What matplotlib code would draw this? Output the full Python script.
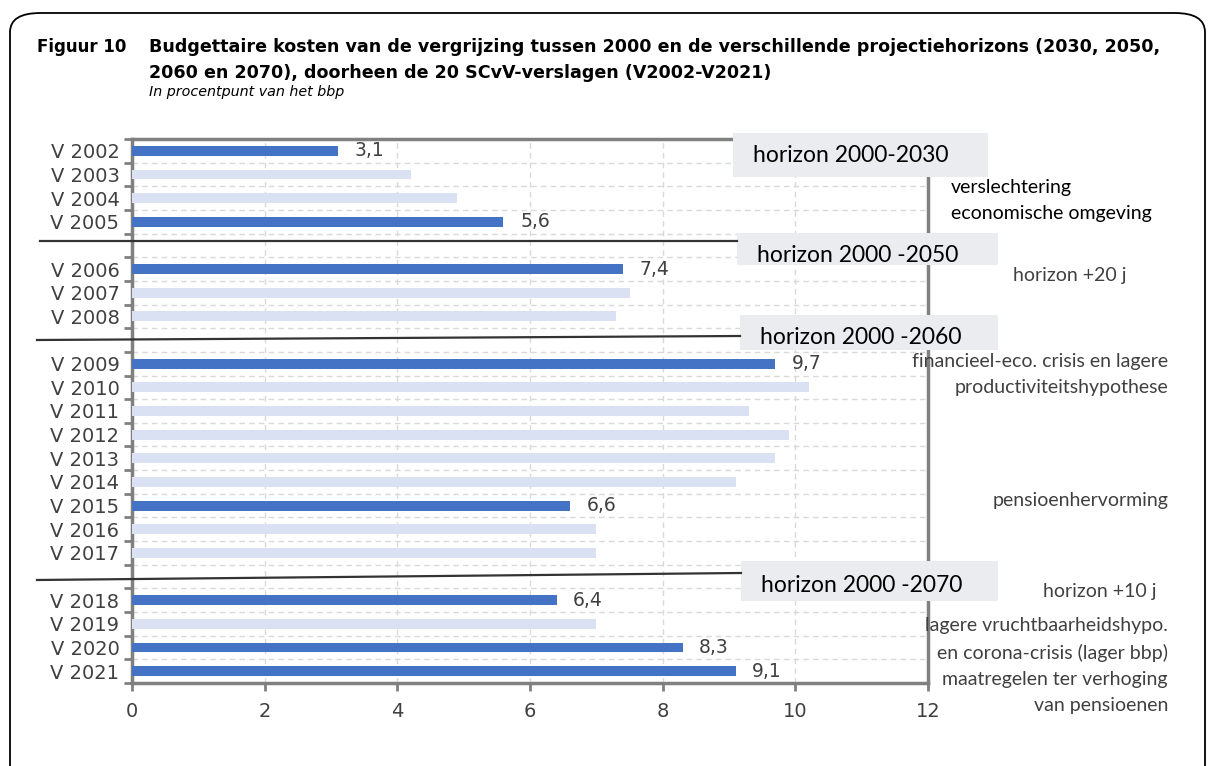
import matplotlib.pyplot as plt
import matplotlib.patches as patches
from matplotlib.lines import Line2D
import numpy as np

# data
reports = ['V 2002', 'V 2003', 'V 2004', 'V 2005',
           'V 2006', 'V 2007', 'V 2008',
           'V 2009', 'V 2010', 'V 2011', 'V 2012', 'V 2013', 'V 2014', 'V 2015', 'V 2016', 'V 2017',
           'V 2018', 'V 2019', 'V 2020', 'V 2021']
costs = [3.1, 4.2, 4.9, 5.6,
         7.4, 7.5, 7.3,
         9.7, 10.2, 9.3, 9.9, 9.7, 9.1, 6.6, 7.0, 7.0,
         6.4, 7.0, 8.3, 9.1]
highlight = ['V 2002', 'V 2005', 'V 2006', 'V 2009', 'V 2015', 'V 2018', 'V 2020', 'V 2021']
group_sizes = [4, 3, 9, 4]
horizons = ['horizon 2000-2030', 'horizon 2000 -2050', 'horizon 2000 -2060', 'horizon 2000 -2070']
xticks = [0, 2, 4, 6, 8, 10, 12]

DARK = '#4472C4'
LIGHT = '#D9E1F2'
GREY = '#404040'

W, H = 1215, 766
fig = plt.figure(figsize=(W / 100, H / 100), dpi=100)

def fx(px):
    return px / W

def fy(py):
    return 1 - py / H

# one empty slot between the horizon groups
pos = []
slot = 0
for n in group_sizes:
    for i in range(n):
        pos.append(slot)
        slot += 1
    slot += 1
nslots = slot - 1

ax = fig.add_axes([fx(132), fy(683), fx(928) - fx(132), fy(139) - fy(683)])
colors = [DARK if r in highlight else LIGHT for r in reports]
ax.barh(pos, costs, height=0.42, color=colors, zorder=3)

for p, v, r in zip(pos, costs, reports):
    if r in highlight:
        ax.annotate(f'{v:.1f}'.replace('.', ','), (v, p), xytext=(12, 0), textcoords='offset points',
                    ha='left', va='center', fontsize=13.5, color=GREY, zorder=4)

ax.set_xlim(0, 12)
ax.set_ylim(nslots - 0.5, -0.5)
ax.set_xticks(xticks)
ax.set_xticklabels([str(t) for t in xticks])
ax.set_yticks(pos)
ax.set_yticklabels(reports)
ax.set_yticks(np.arange(-0.5, nslots, 1), minor=True)
ax.tick_params(axis='y', which='major', length=0, pad=9, labelsize=14, labelcolor=GREY)
ax.tick_params(axis='y', which='minor', length=6, width=2, color='#808080')
ax.tick_params(axis='x', length=6, width=2, color='#808080', labelsize=14, labelcolor=GREY, pad=8)
ax.grid(axis='y', which='minor', color='#d9d9d9', linestyle=(0, (4, 3)), linewidth=1, zorder=0)
ax.grid(axis='x', which='major', color='#d9d9d9', linestyle=(0, (4, 3)), linewidth=1, zorder=0)
for s in ax.spines.values():
    s.set_color('#808080')
    s.set_linewidth(2.5)

# group separators
seps = [((40, 241), (737, 241)), ((37, 340), (740, 336)), ((37, 580), (741, 573))]
for (x0, y0), (x1, y1) in seps:
    fig.add_artist(Line2D([fx(x0), fx(x1)], [fy(y0), fy(y1)], color='#333333', linewidth=1.6))

# horizon boxes
boxes = [(733, 133, 988, 177, 155), (737, 233, 998, 265, 256),
         (740, 315, 998, 350, 338), (741, 561, 998, 601, 586)]
for (x0, y0, x1, y1, ty), lab in zip(boxes, horizons):
    fig.add_artist(patches.Rectangle((fx(x0), fy(y1)), fx(x1) - fx(x0), fy(y0) - fy(y1),
                                     transform=fig.transFigure, facecolor='#ebecf0', edgecolor='none'))
    fig.text(fx(x0 + 20), fy(ty), lab, fontsize=16.5, family='Lato', va='center', ha='left', color='black')

# annotations on the right
NOTE = 14
fig.text(fx(951), fy(187), 'verslechtering', fontsize=NOTE, family='Lato', va='center', ha='left')
fig.text(fx(951), fy(214), 'economische omgeving', fontsize=NOTE, family='Lato', va='center', ha='left')
fig.text(fx(1013), fy(276), 'horizon +20 j', fontsize=NOTE, family='Lato', va='center', ha='left', color=GREY)
right_notes = [('financieel-eco. crisis en lagere', 362), ('productiviteitshypothese', 388),
               ('pensioenhervorming', 500), ('lagere vruchtbaarheidshypo.', 625),
               ('en corona-crisis (lager bbp)', 653), ('maatregelen ter verhoging', 680),
               ('van pensioenen', 705)]
for txt, y in right_notes:
    fig.text(fx(1168), fy(y), txt, fontsize=NOTE, family='Lato', va='center', ha='right', color=GREY)
fig.text(fx(1043), fy(592), 'horizon +10 j', fontsize=NOTE, family='Lato', va='center', ha='left', color=GREY)

# title block
fig.text(fx(37), fy(47), 'Figuur 10', fontsize=12, fontweight='bold', va='center', ha='left')
fig.text(fx(149), fy(47), 'Budgettaire kosten van de vergrijzing tussen 2000 en de verschillende projectiehorizons (2030, 2050,',
         fontsize=12.6, fontweight='bold', va='center', ha='left')
fig.text(fx(149), fy(73), '2060 en 2070), doorheen de 20 SCvV-verslagen (V2002-V2021)',
         fontsize=12.6, fontweight='bold', va='center', ha='left')
fig.text(fx(149), fy(92), 'In procentpunt van het bbp', fontsize=10.3, style='italic', va='center', ha='left')

# rounded frame
fig.add_artist(patches.FancyBboxPatch((fx(10), fy(790)), fx(1205) - fx(10), fy(13) - fy(790),
                                      boxstyle='round,pad=0,rounding_size=0.025', transform=fig.transFigure,
                                      facecolor='none', edgecolor='black', linewidth=1.3))

plt.savefig('out.png', dpi=100)
